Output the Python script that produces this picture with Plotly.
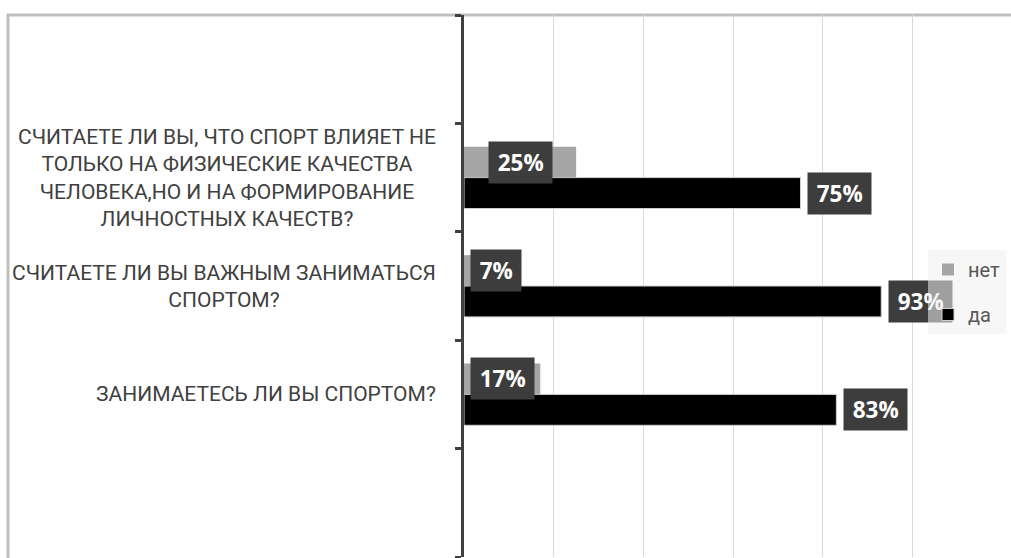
import plotly.graph_objects as go

# ---- data (top-to-bottom order as shown) ----
categories = [
    "СЧИТАЕТЕ ЛИ ВЫ, ЧТО СПОРТ ВЛИЯЕТ НЕ<br>ТОЛЬКО НА ФИЗИЧЕСКИЕ КАЧЕСТВА<br>ЧЕЛОВЕКА,НО И НА ФОРМИРОВАНИЕ<br>ЛИЧНОСТНЫХ КАЧЕСТВ?",
    "СЧИТАЕТЕ ЛИ ВЫ ВАЖНЫМ ЗАНИМАТЬСЯ<br>СПОРТОМ?",
    "ЗАНИМАЕТЕСЬ ЛИ ВЫ СПОРТОМ?",
]
da_values = [0.75, 0.93, 0.83]
net_values = [0.25, 0.07, 0.17]
series_names = ["да", "нет"]
x_ticks = [0, 0.2, 0.4, 0.6, 0.8, 1.0]

# ---- layout constants ----
W, H = 1011, 558
ML, MR, MT, MB = 464, 97, 15, 1
PW = W - ML - MR
PH = H - MT - MB
XMAX = 1.003
BARGAP = 0.43
n = len(categories)
ypos = [n - 1 - i for i in range(n)]          # top category gets the highest y
yrange = [-1.5, n + 0.5]
boundaries = [yrange[0] + k for k in range(int(yrange[1] - yrange[0]) + 1)]
off = (1 - BARGAP) / 4                        # centre offset of each bar in group

LABEL_FONT = "Open Sans"
CAT_FONT = "Roboto"
LABEL_BG = "#3d3d3d"
LSIZE = 22.5

fig = go.Figure()
fig.add_trace(go.Bar(
    y=ypos, x=da_values, orientation="h", name=series_names[0],
    marker=dict(color="#000000", line=dict(color="#d0d0d0", width=1)),
    legendgroup="a", legendrank=2, hoverinfo="x",
))
fig.add_trace(go.Bar(
    y=ypos, x=net_values, orientation="h", name=series_names[1],
    marker=dict(color="#a6a6a6", line=dict(width=0)),
    legendgroup="b", legendrank=1, hoverinfo="x",
))

annotations = []


def box_width(txt):
    digits = sum(c.isdigit() for c in txt)
    return 0.572 * LSIZE * digits + 0.87 * LSIZE + 8


PAD = 5
# value labels
for i, yv in enumerate(ypos):
    # да : outside end
    t = f"{round(da_values[i]*100)}%"
    annotations.append(dict(
        x=da_values[i], y=yv - off, xref="x", yref="y", text=f"<b>{t}</b>",
        showarrow=False, xanchor="left", yanchor="middle", xshift=7,
        bgcolor=LABEL_BG, borderpad=PAD, width=box_width(t), height=30.5,
        font=dict(family=LABEL_FONT, size=LSIZE, color="#ffffff"),
    ))
    # нет : centred in bar, kept inside the plot
    t = f"{round(net_values[i]*100)}%"
    half = (box_width(t) + 2 * PAD) / 2
    if net_values[i] / 2 * PW / XMAX - half < 6:
        ax = dict(x=0, xanchor="left", xshift=6)
    else:
        ax = dict(x=net_values[i] / 2, xanchor="center")
    annotations.append(dict(
        y=yv + off, xref="x", yref="y", text=f"<b>{t}</b>",
        showarrow=False, yanchor="middle",
        bgcolor=LABEL_BG, borderpad=PAD, width=box_width(t), height=30.5,
        font=dict(family=LABEL_FONT, size=LSIZE, color="#ffffff"), **ax,
    ))

# category labels (centred multi-line)
for i, yv in enumerate(ypos):
    annotations.append(dict(
        x=0, y=yv, xref="paper", yref="y", text=categories[i],
        showarrow=False, xanchor="right", yanchor="middle", xshift=-26,
        align="center", font=dict(family=CAT_FONT, size=21, color="#404040"),
    ))

fig.update_layout(
    width=W, height=H,
    margin=dict(l=ML, r=MR, t=MT, b=MB),
    paper_bgcolor="#ffffff", plot_bgcolor="#ffffff",
    barmode="group", bargap=BARGAP, bargroupgap=0,
    font=dict(family=CAT_FONT, color="#595959"),
    annotations=annotations,
    showlegend=True,
    legend=dict(
        x=1 + (928 - (ML + PW)) / PW, xanchor="left",
        y=1 - (250 - MT) / PH, yanchor="top",
        traceorder="grouped", tracegroupgap=16,
        bgcolor="rgba(240,240,240,0.55)", borderwidth=0,
        font=dict(family=CAT_FONT, size=20, color="#595959"),
        entrywidth=90, itemwidth=30,
    ),
    shapes=[dict(
        type="rect", xref="paper", yref="paper",
        x0=(8 - ML) / PW, x1=1.4, y0=-0.2, y1=1.0,
        line=dict(color="#bfbfbf", width=3), fillcolor="rgba(0,0,0,0)",
        layer="below",
    )],
)
fig.update_xaxes(
    range=[0, XMAX], tickvals=x_ticks, showticklabels=False,
    showgrid=True, gridcolor="#d9d9d9", gridwidth=1,
    zeroline=False, showline=False, ticks="",
)
fig.update_yaxes(
    range=yrange, tickvals=boundaries, showticklabels=False,
    showgrid=False, zeroline=False,
    showline=True, linecolor="#404040", linewidth=3,
    ticks="outside", ticklen=6, tickwidth=3, tickcolor="#404040",
)

fig.write_html(
    "out.html",
    config={"displayModeBar": False},
    post_script=(
        "document.body.style.margin='0';document.body.style.overflow='hidden';"
        "var lg=document.querySelector('g.legend');"
        "if(lg){var svgs=document.querySelectorAll('svg.main-svg');"
        "var top=svgs[svgs.length-1];top.appendChild(lg);}"
    ),
)
